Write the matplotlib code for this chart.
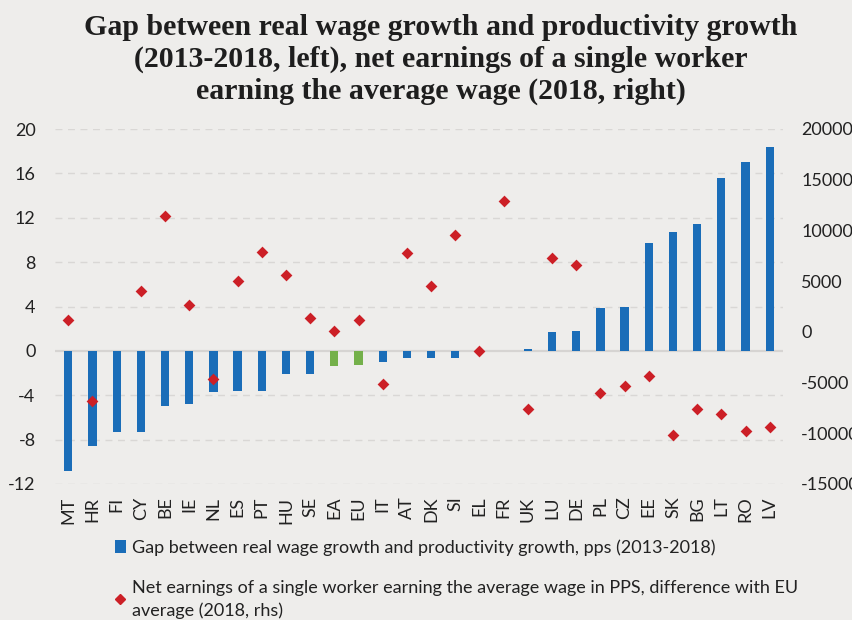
import numpy as np
import matplotlib
matplotlib.use("Agg")
import matplotlib.pyplot as plt
from matplotlib.lines import Line2D
from matplotlib.patches import Patch

# data
countries = ["MT", "HR", "FI", "CY", "BE", "IE", "NL", "ES", "PT", "HU", "SE", "EA", "EU",
             "IT", "AT", "DK", "SI", "EL", "FR", "UK", "LU", "DE", "PL", "CZ", "EE", "SK",
             "BG", "LT", "RO", "LV"]
wage_gap = [-10.8, -8.6, -7.35, -7.3, -5.0, -4.8, -3.7, -3.65, -3.6, -2.1, -2.1, -1.4, -1.3,
            -1.0, -0.6, -0.6, -0.6, -0.1, 0.0, 0.2, 1.7, 1.8, 3.85, 3.95, 9.7, 10.7,
            11.4, 15.6, 17.05, 18.4]
net_earnings = [1200, -6800, np.nan, 4050, 11400, 2600, -4600, 5050, 7900, 5600, 1350, 100, 1200,
                -5150, 7750, 4500, 9500, -1900, 12950, -7650, 7250, 6550, -6000, -5350, -4400, -10200,
                -7650, -8050, -9750, -9350]
aggregates = ["EA", "EU"]

bg = "#EEEDEB"
blue = "#1A6DB8"
green = "#74B04A"
red = "#CC1F26"

plt.rcParams["font.family"] = ["Lato", "DejaVu Sans"]
plt.rcParams["axes.unicode_minus"] = False

fig = plt.figure(figsize=(8.53, 6.2), dpi=100, facecolor=bg)
ax = fig.add_axes([55 / 853, 1 - 484 / 620, (783 - 55) / 853, (484 - 129) / 620])
ax.set_facecolor(bg)

x = np.arange(len(countries))
colors = [green if c in aggregates else blue for c in countries]
ax.bar(x, wage_gap, width=0.34, color=colors, zorder=2)

ax.set_ylim(-12, 20)
ax.set_yticks(np.arange(-12, 21, 4))
ax.set_xlim(-0.55, len(countries) - 0.45)
for v in np.arange(-12, 21, 4):
    if v == 0:
        ax.axhline(0, color="#D6D4D2", lw=1.6, zorder=1)
    else:
        ax.axhline(v, color="#D9D7D5", lw=1.0, ls=(0, (5, 4)), zorder=1)

ax.set_xticks(x)
ax.set_xticklabels(countries, rotation=90, fontsize=13, color="#222222")
ax.tick_params(axis="both", length=0)
ax.tick_params(axis="y", labelsize=13, labelcolor="#222222", pad=14)
ax.tick_params(axis="x", pad=9)
for s in ax.spines.values():
    s.set_visible(False)

ax2 = ax.twinx()
ax2.scatter(x, net_earnings, marker="D", s=36, color=red, zorder=3, linewidths=0)
ax2.set_ylim(-15000, 20000)
ax2.set_yticks(np.arange(-15000, 20001, 5000))
ax2.tick_params(axis="y", length=0, labelsize=13, labelcolor="#222222", pad=13)
for s in ax2.spines.values():
    s.set_visible(False)

fig.text(0.517, 0.978,
         "Gap between real wage growth and productivity growth\n"
         "(2013-2018, left), net earnings of a single worker\n"
         "earning the average wage (2018, right)",
         ha="center", va="top", fontsize=21.5, fontweight="bold",
         family="Liberation Serif", color="#1E1E1E", linespacing=1.22)

handles = [Patch(facecolor=blue, edgecolor="none"),
           Line2D([], [], marker="D", color=red, ls="none", markersize=5)]
labels = ["Gap between real wage growth and productivity growth, pps (2013-2018)",
          "Net earnings of a single worker earning the average wage in PPS, difference with EU\n"
          "average (2018, rhs)"]
leg = fig.legend(handles, labels, loc="upper left", bbox_to_anchor=(115 / 853, 1 - 539 / 620),
                 frameon=False, fontsize=13, handlelength=0.6, handleheight=0.7,
                 handletextpad=0.35, labelspacing=1.35, borderaxespad=0, borderpad=0,
                 labelcolor="#222222")
for t in leg.get_texts():
    t.set_linespacing(1.45)

fig.savefig("out.png", dpi=100, facecolor=bg)
